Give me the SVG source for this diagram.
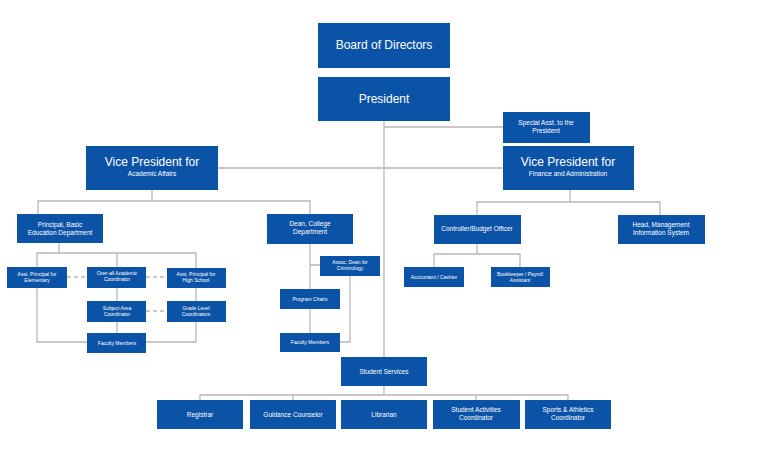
<svg xmlns="http://www.w3.org/2000/svg" width="768" height="466" viewBox="0 0 768 466">
<style>
rect{fill:#0b53a6}
text{fill:#fff;font-family:"Liberation Sans",Arial,sans-serif;text-anchor:middle}
.s{font-size:5px}.m{font-size:6.5px}.l{font-size:12px}.x{font-size:10px}
#c path{stroke:#b8b8b8;stroke-width:1.3;fill:none}
#c .d{stroke-dasharray:4 3}
</style>
<rect x="0" y="0" width="768" height="466" style="fill:#fff"/>
<g id="c">
<path d="M384 121V357M384 127H503M218 168H503M152 190V201M38 214V201H310V214M59 243V253M37 267V253H196V268M117 253V267"/>
<path class="d" d="M67 277H87M146 277H167M146 311H167"/>
<path d="M37 288V342H87M117 288V301M117 322V333M196 288V301M196 322V342H146"/>
<path d="M310 244V333M310 265H320M350 276V342H340"/>
<path d="M570 190V202M477 215V202H660V215M477 244V254M434 267V254H520V267"/>
<path d="M384 386V395M200 400V395H568V400M293 395V400M476 395V400"/>
</g>
<g id="board"><rect x="318" y="23" width="132" height="45"/><text class="l" x="384" y="49">Board of Directors</text></g>
<g id="president"><rect x="318" y="77" width="132" height="44"/><text class="l" x="384" y="103">President</text></g>
<g id="special"><rect x="503" y="112" width="87" height="31"/><text class="m" x="546" y="125">Special Asst. to the</text><text class="m" x="546" y="133">President</text></g>
<g id="vpa"><rect x="86" y="146" width="132" height="44"/><text class="l" x="152" y="166">Vice President for</text><text class="m" x="152" y="176">Academic Affairs</text></g>
<g id="vpf"><rect x="503" y="146" width="131" height="44"/><text class="l" x="568" y="166">Vice President for</text><text class="m" x="568" y="176">Finance and Administration</text></g>
<g id="principal"><rect x="17" y="214" width="86" height="29"/><text class="m" x="60" y="227">Principal, Basic</text><text class="m" x="60" y="235">Education Department</text></g>
<g id="dean"><rect x="267" y="214" width="86" height="30"/><text class="m" x="310" y="226">Dean, College</text><text class="m" x="310" y="234">Department</text></g>
<g id="ape"><rect x="7" y="267" width="60" height="21"/><text class="s" x="37" y="276">Asst. Principal for</text><text class="s" x="37" y="282">Elementary</text></g>
<g id="oac"><rect x="87" y="267" width="59" height="21"/><text class="s" x="117" y="275">Over-all Academic</text><text class="s" x="117" y="281">Coordinator</text></g>
<g id="aph"><rect x="167" y="268" width="59" height="20"/><text class="s" x="196" y="276">Asst. Principal for</text><text class="s" x="196" y="282">High School</text></g>
<g id="sac"><rect x="87" y="301" width="59" height="21"/><text class="s" x="117" y="310">Subject Area</text><text class="s" x="117" y="316">Coordinator</text></g>
<g id="glc"><rect x="167" y="301" width="59" height="21"/><text class="s" x="196" y="310">Grade Level</text><text class="s" x="196" y="316">Coordinators</text></g>
<g id="fm1"><rect x="87" y="333" width="59" height="20"/><text class="s" x="117" y="345">Faculty Members</text></g>
<g id="adc"><rect x="320" y="256" width="60" height="20"/><text class="s" x="350" y="264">Assoc. Dean for</text><text class="s" x="350" y="270">Criminology</text></g>
<g id="pc"><rect x="280" y="289" width="60" height="20"/><text class="s" x="310" y="301">Program Chairs</text></g>
<g id="fm2"><rect x="280" y="333" width="60" height="19"/><text class="s" x="310" y="344">Faculty Members</text></g>
<g id="ctrl"><rect x="434" y="215" width="87" height="29"/><text class="m" x="477" y="231">Controller/Budget Officer</text></g>
<g id="mis"><rect x="618" y="215" width="87" height="29"/><text class="m" x="661" y="227">Head, Management</text><text class="m" x="661" y="235">Information System</text></g>
<g id="acc"><rect x="404" y="267" width="60" height="20"/><text class="s" x="434" y="279">Accountant / Cashier</text></g>
<g id="book"><rect x="491" y="267" width="59" height="20"/><text class="s" x="520" y="276">Bookkeeper / Payroll</text><text class="s" x="520" y="282">Assistant</text></g>
<g id="ss"><rect x="341" y="357" width="86" height="29"/><text class="m" x="384" y="374">Student Services</text></g>
<g id="reg"><rect x="157" y="400" width="86" height="29"/><text class="m" x="200" y="417">Registrar</text></g>
<g id="gc"><rect x="250" y="400" width="86" height="29"/><text class="m" x="293" y="417">Guidance Counselor</text></g>
<g id="lib"><rect x="341" y="400" width="86" height="29"/><text class="m" x="384" y="417">Librarian</text></g>
<g id="sac2"><rect x="433" y="400" width="87" height="29"/><text class="m" x="476" y="412">Student Activities</text><text class="m" x="476" y="420">Coordinator</text></g>
<g id="sports"><rect x="525" y="400" width="86" height="29"/><text class="m" x="568" y="412">Sports &amp; Athletics</text><text class="m" x="568" y="420">Coordinator</text></g>
</svg>
